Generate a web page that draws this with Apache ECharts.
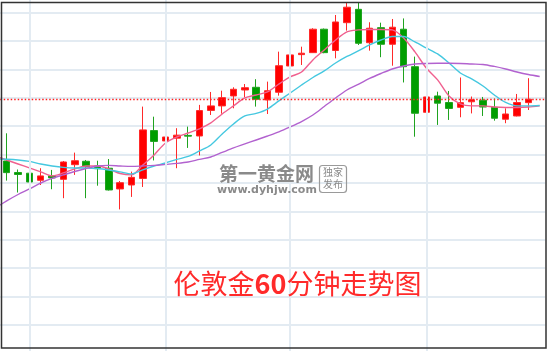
<!DOCTYPE html>
<html><head><meta charset="utf-8">
<script src="https://cdn.jsdelivr.net/npm/echarts@6/dist/echarts.min.js"></script>
<style>html,body{margin:0;padding:0;background:#fff}#c{width:550px;height:351px}</style>
</head><body><div id="c"></div>
<script>
// Hourly categories (first and last slots carry only moving-average values)
const categories = ['1日09:00','1日10:00','1日11:00','1日12:00','1日13:00','1日14:00','1日15:00','1日16:00','1日17:00','1日18:00','1日19:00','1日20:00','1日21:00','1日22:00','1日23:00',
 '2日00:00','2日01:00','2日02:00','2日03:00','2日04:00','2日06:00','2日07:00','2日08:00','2日09:00','2日10:00','2日11:00','2日12:00','2日13:00','2日14:00','2日15:00','2日16:00','2日17:00','2日18:00','2日19:00','2日20:00','2日21:00','2日22:00','2日23:00',
 '3日00:00','3日01:00','3日02:00','3日03:00','3日04:00','3日06:00','3日07:00','3日08:00','3日09:00','3日10:00','3日11:00'];

const opens  = [1289.55,1288.74,1288.69,1288.19,1288.50,1288.26,1289.29,1289.53,1289.20,1289.04,1287.58,1287.86,1288.32,1291.69,1290.96,1291.16,1291.35,1291.31,1293.11,1293.43,1294.13,1294.55,1294.74,1293.85,1294.39,1296.24,1297.04,1297.18,1298.83,1297.33,1299.29,1300.23,1297.88,1298.94,1297.77,1298.83,1296.19,1292.98,1294.13,1293.67,1293.33,1293.72,1293.83,1293.33,1292.49,1292.72,1293.66];
const closes = [1288.73,1288.60,1288.07,1288.50,1288.36,1289.48,1289.57,1289.15,1289.01,1287.51,1288.02,1288.40,1291.74,1290.93,1291.24,1291.37,1291.30,1293.10,1293.43,1294.01,1294.60,1294.71,1293.90,1294.50,1296.26,1297.02,1297.14,1298.83,1297.18,1299.34,1300.38,1297.84,1298.90,1297.77,1298.97,1296.19,1292.91,1294.06,1293.62,1293.25,1293.66,1293.86,1293.35,1292.56,1292.86,1293.67,1293.90];
const lows   = [1288.17,1287.33,1287.46,1287.86,1287.56,1286.93,1288.57,1286.93,1287.81,1287.47,1286.14,1287.02,1287.72,1289.59,1289.04,1289.04,1290.47,1289.94,1292.79,1292.88,1293.26,1294.04,1293.38,1292.86,1294.15,1295.96,1296.31,1297.16,1297.14,1296.78,1298.73,1297.72,1297.32,1296.86,1296.26,1295.08,1291.26,1291.52,1292.09,1292.44,1292.63,1292.90,1292.72,1292.39,1292.21,1292.69,1293.14];
const highs  = [1291.50,1288.95,1288.88,1289.04,1288.92,1289.55,1290.14,1289.62,1289.57,1289.69,1288.14,1288.80,1293.38,1292.67,1291.69,1291.86,1291.97,1293.50,1294.41,1294.50,1294.74,1294.97,1295.31,1295.14,1297.25,1298.38,1297.60,1298.90,1298.88,1299.83,1300.70,1300.70,1299.32,1299.29,1299.55,1299.59,1296.90,1295.02,1294.43,1294.48,1295.43,1294.09,1294.06,1293.95,1293.26,1294.27,1295.38];

const maShort = [1289.90,1289.62,1289.34,1289.06,1288.78,1288.50,1288.71,1288.99,1289.20,1289.20,1288.99,1288.67,1288.57,1289.27,1289.98,1290.82,1291.24,1291.52,1291.81,1292.23,1292.86,1293.43,1293.99,1294.20,1294.41,1294.97,1295.47,1295.82,1296.67,1297.37,1298.07,1298.64,1298.78,1298.81,1298.81,1298.78,1298.21,1297.23,1296.10,1295.26,1294.13,1293.57,1293.43,1293.43,1293.35,1293.32,1293.32,1293.35,1293.43];
const maMid   = [1289.69,1289.67,1289.62,1289.52,1289.34,1289.20,1289.10,1289.06,1289.06,1289.02,1288.92,1288.78,1288.64,1288.92,1289.20,1289.41,1289.66,1289.87,1290.26,1290.68,1291.45,1292.16,1292.72,1292.90,1293.21,1293.78,1294.34,1294.90,1295.43,1295.89,1296.45,1296.91,1297.30,1297.72,1298.07,1298.32,1298.32,1297.93,1297.51,1297.09,1296.45,1295.75,1295.33,1294.83,1294.20,1293.67,1293.43,1293.43,1293.46];
const maLong  = [1286.24,1286.74,1287.19,1287.58,1288.00,1288.32,1288.57,1288.81,1289.02,1289.20,1289.24,1289.20,1289.17,1289.20,1289.24,1289.31,1289.38,1289.48,1289.66,1289.83,1290.15,1290.47,1290.75,1291.03,1291.31,1291.60,1291.95,1292.33,1292.79,1293.39,1293.99,1294.55,1294.94,1295.36,1295.71,1296.03,1296.24,1296.38,1296.42,1296.43,1296.43,1296.42,1296.38,1296.35,1296.21,1296.03,1295.82,1295.64,1295.50];

const yTicks = {min: 1276, max: 1302, step: 2};

const dividers = categories.filter(c => c.slice(2) === '00:00' || c.slice(2) === '12:00');
const lastPrice = closes[closes.length - 1];
const empty = ['-','-','-','-'];
const candleData = [empty].concat(opens.map((o, i) => [o, closes[i], lows[i], highs[i]])).concat([empty]);

const gridColor = '#e3ebf2';
const chart = echarts.init(document.getElementById('c'), null, {renderer: 'canvas'});
const lineSeries = (data, color) => ({
  type: 'line', data: data, z: 3, silent: true, showSymbol: false, symbol: 'none', smooth: 0.3,
  lineStyle: {color: color, width: 1.4}, emphasis: {disabled: true}
});
chart.setOption({
  animation: false,
  backgroundColor: '#fff',
  grid: {left: -10.3, right: 4.64, top: -15.8, bottom: -2.4, outerBoundsMode: 'none', containLabel: false},
  xAxis: {type: 'category', data: categories, boundaryGap: true,
    axisLine: {show: false}, axisTick: {show: false}, axisLabel: {show: false}, splitLine: {show: false}},
  yAxis: {type: 'value', min: yTicks.min, max: yTicks.max, interval: yTicks.step,
    axisLine: {show: false}, axisTick: {show: false}, axisLabel: {show: false},
    splitLine: {show: true, lineStyle: {color: gridColor, width: 2}}},
  series: [
    {type: 'line', data: categories.map(() => '-'), z: 1, silent: true, symbol: 'none',
     markLine: {symbol: 'none', silent: true, label: {show: false},
       lineStyle: {color: gridColor, width: 2, type: 'solid'},
       data: dividers.map(c => ({xAxis: c}))}},
    {type: 'candlestick', data: candleData, barWidth: 7, z: 2, silent: true,
     itemStyle: {color: '#ff0000', color0: '#009e00', borderColor: '#ff2a2a', borderColor0: '#1fa31f', borderWidth: 1},
     markLine: {symbol: 'none', silent: true, label: {show: false},
       lineStyle: {color: '#ff2020', type: [1.5, 2], width: 1.3, opacity: 1},
       data: [{yAxis: lastPrice}]}},
    lineSeries(maShort, '#f0608f'),
    lineSeries(maMid, '#45c8e0'),
    lineSeries(maLong, '#b262cf')
  ],
  graphic: [
    {type: 'text', x: 266.5, y: 174, z: 10, silent: true,
     style: {text: '第一黄金网', font: 'bold 19px "Noto Sans CJK SC"', fill: '#8a8a8a', align: 'center', verticalAlign: 'middle'}},
    {type: 'text', x: 267, y: 190, z: 10, silent: true,
     style: {text: 'www.dyhjw.com', font: 'bold 11px "DejaVu Sans"', fill: '#8a8a8a', align: 'center', verticalAlign: 'middle'}},
    {type: 'rect', z: 10, silent: true, shape: {x: 319.5, y: 165.5, width: 27, height: 27, r: 3},
     style: {fill: 'none', stroke: '#9a9a9a', lineWidth: 1.2}},
    {type: 'text', x: 333, y: 172.5, z: 10, silent: true,
     style: {text: '独家', font: '10px "Noto Sans CJK SC"', fill: '#8a8a8a', align: 'center', verticalAlign: 'middle'}},
    {type: 'text', x: 333, y: 184.5, z: 10, silent: true,
     style: {text: '发布', font: '10px "Noto Sans CJK SC"', fill: '#8a8a8a', align: 'center', verticalAlign: 'middle'}},
    {type: 'text', x: 297.5, y: 284, z: 10, silent: true,
     style: {text: '{a|伦敦金}{b|60}{a|分钟走势图}', align: 'center', verticalAlign: 'middle',
       rich: {a: {font: '27px "Noto Sans CJK SC"', fill: '#ff2a2a'},
              b: {font: 'bold 27px "Noto Sans CJK SC"', fill: '#ff2a2a'}}}},
    {type: 'rect', z: 100, silent: true, shape: {x: 1.5, y: 2.5, width: 544.5, height: 345.5},
     style: {fill: 'none', stroke: '#333', lineWidth: 1.5}}
  ]
});
</script></body></html>
